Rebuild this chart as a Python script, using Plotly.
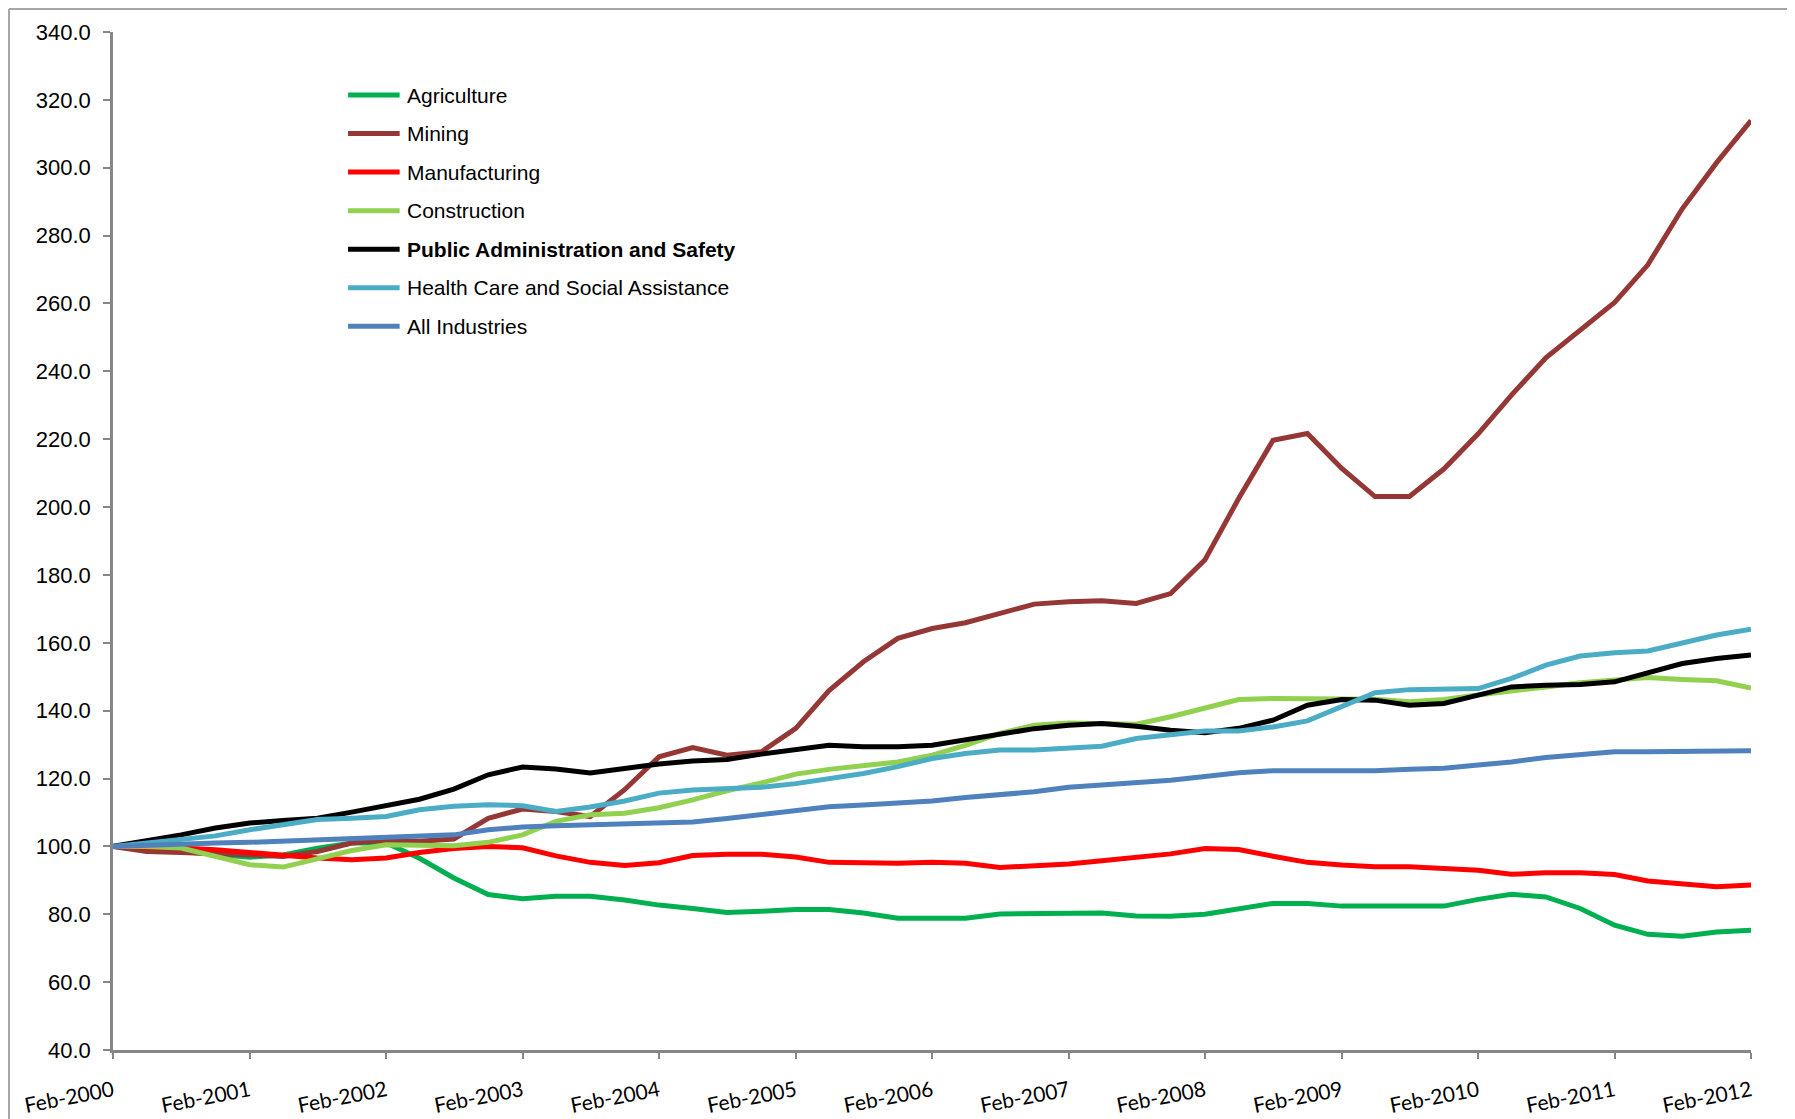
import pandas as pd
import plotly.graph_objects as go

# Quarterly observations, Feb-2000 .. Feb-2012
quarters = pd.date_range("2000-02-01", "2012-02-01", freq="3MS")

agriculture = [100, 99.5, 98.5, 97.5, 96.8, 97.5, 99.5, 101, 101, 96.5,
               90.7, 85.8, 84.6, 85.3, 85.3, 84.2, 82.7, 81.7, 80.5, 80.9,
               81.4, 81.4, 80.4, 78.8, 78.8, 78.8, 80.1, 80.1, 80.1, 80.4,
               79.5, 79.4, 80.0, 81.7, 83.2, 83.2, 82.4, 82.4, 82.4, 82.4,
               84.4, 85.9, 85.1, 81.7, 76.8, 74.1, 73.5, 74.8, 75.3]
mining = [100, 98.5, 98.2, 98, 97.5, 97, 98.5, 101, 101.8, 101.5,
          102.2, 108.3, 111, 110.3, 108.8, 116.7, 126.4, 129.1, 126.9, 127.9,
          134.8, 145.9, 154.4, 161.3, 164.2, 165.9, 168.8, 171.4, 172.1, 172.4,
          171.6, 174.5, 184.5, 202.5, 219.7, 221.7, 211.4, 203.1, 203.1, 211.2,
          221.6, 233, 244, 252.2, 260.3, 271.4, 287.9, 301.5, 313.9]
manufacturing = [100, 99.8, 99.5, 99, 98.2, 97.2, 96.6, 96.1, 96.6, 98.2,
                 99.4, 100, 99.6, 97.2, 95.3, 94.4, 95.2, 97.3, 97.7, 97.7,
                 96.9, 95.3, 95.0, 95.0, 95.3, 95.0, 93.8, 94.3, 94.8, 95.8,
                 96.9, 97.8, 99.4, 99.1, 97.1, 95.3, 94.5, 94.0, 94.0, 93.5,
                 93.0, 91.8, 92.2, 92.2, 91.7, 89.8, 88.8, 88.1, 88.6]
construction = [100, 100, 99.5, 97, 94.6, 93.9, 96.3, 98.8, 100.5, 100.5,
                100.2, 101.2, 103.4, 107.4, 109.3, 109.8, 111.4, 113.7, 116.4, 118.7,
                121.3, 122.7, 123.7, 124.9, 126.9, 129.8, 133.3, 135.7, 136.4, 136.2,
                136.0, 138.2, 140.9, 143.3, 143.6, 143.6, 143.6, 143.4, 142.6, 143.3,
                144.6, 145.9, 147.0, 148.2, 149.0, 149.8, 149.2, 148.8, 146.7]
public_admin = [100, 101.5, 103.4, 105.4, 106.9, 107.6, 108.3, 110.1, 112.0, 113.9,
                116.9, 121.1, 123.4, 122.8, 121.6, 122.9, 124.3, 125.2, 125.6, 127.2,
                128.4, 129.8, 129.4, 129.4, 129.8, 131.3, 132.8, 134.7, 135.7, 136.2,
                135.4, 134.2, 133.5, 134.8, 137.2, 141.6, 143.3, 143.1, 141.6, 142.1,
                144.6, 147.0, 147.5, 147.7, 148.5, 151.2, 153.9, 155.4, 156.4]
health_care = [100, 101, 102.2, 103.1, 104.9, 106.4, 107.9, 108.3, 108.8, 110.8,
               111.8, 112.3, 112.0, 110.3, 111.6, 113.4, 115.7, 116.6, 116.9, 117.4,
               118.5, 120.0, 121.5, 123.5, 125.9, 127.4, 128.4, 128.4, 128.9, 129.5,
               131.8, 133.0, 134.0, 134.0, 135.2, 137.0, 141.1, 145.3, 146.2, 146.2,
               146.5, 149.5, 153.4, 156.1, 157.1, 157.6, 160.0, 162.3, 164.0]
all_industries = [100, 100.4, 100.7, 101, 101.2, 101.5, 102, 102.2, 102.5, 102.8,
                  103.4, 104.9, 105.7, 106.1, 106.4, 106.6, 106.8, 107.2, 108.2, 109.4,
                  110.4, 111.7, 112.2, 112.8, 113.4, 114.4, 115.1, 116.1, 117.4, 118.1,
                  119.0, 119.5, 120.6, 121.7, 122.3, 122.3, 122.3, 122.3, 122.7, 123.0,
                  124.0, 124.9, 126.2, 127.2, 127.9, 127.9, 127.9, 128.2, 128.2]

series_names = ["Agriculture", "Mining", "Manufacturing", "Construction",
                "Public Administration and Safety", "Health Care and Social Assistance",
                "All Industries"]
series_values = [agriculture, mining, manufacturing, construction,
                 public_admin, health_care, all_industries]
series_colors = ["#00B050", "#953735", "#FF0000", "#92D050",
                 "#000000", "#4BACC6", "#4F81BD"]
series_bold = [False, False, False, False, True, False, False]

AXIS_GRAY = "#868686"
LABEL_FONT = "Liberation Sans"
LINE_W = 5.0

fig = go.Figure()
for name, vals, color in zip(series_names, series_values, series_colors):
    fig.add_trace(go.Scatter(
        x=quarters, y=vals, mode="lines", name=name,
        line=dict(color=color, width=LINE_W), showlegend=False,
        hoverinfo="x+y+name"))

# Manual legend inside the plot area
shapes = []
annotations = []
leg_x0, leg_x1, leg_tx = 0.1435, 0.1750, 0.1783
leg_y0, leg_dy = 0.9381, 0.03787
for k, (name, color, bold) in enumerate(zip(series_names, series_colors, series_bold)):
    yk = leg_y0 - k * leg_dy
    shapes.append(dict(type="line", xref="paper", yref="paper",
                       x0=leg_x0, x1=leg_x1, y0=yk, y1=yk,
                       line=dict(color=color, width=LINE_W), layer="above"))
    annotations.append(dict(xref="paper", yref="paper", x=leg_tx, y=yk,
                            xanchor="left", yanchor="middle", showarrow=False,
                            text=("<b>%s</b>" % name) if bold else name,
                            font=dict(family=LABEL_FONT, size=21, color="#000000")))

# Chart-area border (top and left edges visible)
border_x = -0.0635
border_y = 1.0226
shapes.append(dict(type="line", xref="paper", yref="paper",
                   x0=border_x, x1=border_x, y0=-0.08, y1=border_y,
                   line=dict(color="#a6a6a6", width=2)))
shapes.append(dict(type="line", xref="paper", yref="paper",
                   x0=border_x, x1=1.04, y0=border_y, y1=border_y,
                   line=dict(color="#a6a6a6", width=2)))

# The page body adds an 8px offset; sizes/margins compensate for it.
fig.update_layout(
    width=1787, height=1111, autosize=False,
    margin=dict(l=105, r=44, t=24, b=69, pad=0),
    paper_bgcolor="white", plot_bgcolor="white",
    showlegend=False,
    shapes=shapes, annotations=annotations,
)

fig.update_xaxes(
    type="date", range=["2000-02-01", "2012-02-01"],
    tick0="2000-02-01", dtick="M12", tickformat="%b-%Y",
    tickangle=-11, ticks="outside", ticklen=6, tickwidth=2, tickcolor=AXIS_GRAY,
    showline=True, linecolor=AXIS_GRAY, linewidth=2.5,
    showgrid=False, zeroline=False, automargin=False,
    tickfont=dict(family="Lato", size=21, color="#000000"),
    ticklabelstandoff=12,
)
fig.update_yaxes(
    range=[40, 340], tick0=40, dtick=20, tickformat=".1f",
    ticks="outside", ticklen=7, tickwidth=2, tickcolor=AXIS_GRAY,
    showline=True, linecolor=AXIS_GRAY, linewidth=2.5,
    showgrid=False, zeroline=False, automargin=False,
    tickfont=dict(family=LABEL_FONT, size=22, color="#000000"),
    ticklabelstandoff=8,
)

fig.write_html("out.html")
